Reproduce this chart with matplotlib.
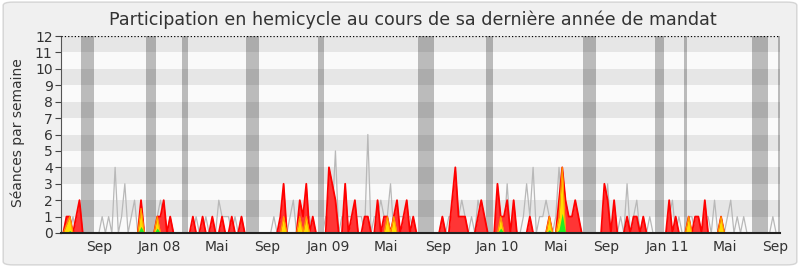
import matplotlib
matplotlib.use("Agg")
import matplotlib.pyplot as plt
from matplotlib.patches import FancyBboxPatch
import numpy as np

# weekly values, week 0 = mid june 2007
presence = [
    0, 1, 1, 0, 1, 2, 0, 0, 0, 0,
    0, 0, 0, 0, 0, 0, 0, 0, 0, 0,
    0, 0, 0, 0, 2, 0, 0, 0, 0, 1,
    1, 2, 0, 1, 0, 0, 0, 0, 0, 0,
    1, 0, 0, 1, 0, 0, 1, 0, 0, 1,
    0, 0, 1, 0, 0, 1, 0, 0, 0, 0,
    0, 0, 0, 0, 0, 0, 0, 1, 3, 0,
    0, 0, 0, 2, 1, 3, 0, 1, 0, 0,
    0, 0, 4, 3, 2, 0, 0, 3, 0, 1,
    2, 0, 0, 1, 1, 0, 0, 2, 0, 1,
    1, 0, 1, 2, 0, 1, 2, 0, 1, 0,
    0, 0, 0, 0, 0, 0, 0, 1, 0, 0,
    2, 4, 1, 1, 1, 0, 0, 0, 1, 2,
    1, 0, 0, 0, 3, 1, 1, 2, 0, 2,
    0, 0, 0, 0, 1, 0, 0, 0, 0, 0,
    1, 0, 0, 2, 4, 2, 1, 1, 2, 1,
    0, 0, 0, 0, 0, 0, 0, 3, 2, 0,
    2, 0, 0, 0, 1, 0, 1, 1, 0, 1,
    0, 0, 0, 0, 0, 0, 0, 2, 0, 1,
    0, 0, 0, 1, 0, 1, 1, 0, 2, 0,
    0, 0, 0, 1, 0, 0, 0, 0, 0, 0,
    0, 0, 0, 0, 0, 0, 0, 0, 0, 0, 0, 0,
]

# sparse series: {week: value}
interventions = {1: 0.5, 2: 1, 24: 1.5, 29: 1, 68: 1, 73: 1, 75: 1, 100: 1,
                 102: 1, 135: 1, 150: 1, 153: 1, 154: 4, 193: 1, 203: 1}
questions = {2: 0.15, 24: 0.4, 29: 0.3, 68: 0.1, 73: 0.1, 75: 0.1, 100: 0.1,
             102: 0.1, 135: 0.3, 150: 0.2, 153: 0.2, 154: 1.2, 193: 0.1, 203: 0.1}

mediane = [
    0, 1, 0, 1, 0, 1, 0, 0, 0, 0,
    0, 0, 1, 0, 1, 0, 4, 0, 1, 3,
    0, 1, 2, 0, 1, 0, 0, 0, 0, 1,
    2, 1, 0, 1, 0, 0, 0, 0, 0, 0,
    0, 1, 0, 0, 1, 0, 0, 0, 2, 1,
    1, 1, 0, 1, 0, 1, 0, 0, 0, 0,
    0, 0, 0, 0, 0, 1, 0, 0, 1, 0,
    1, 2, 0, 1, 1, 1, 1, 0, 0, 0,
    0, 1, 1, 1, 5, 0, 1, 1, 1, 1,
    1, 1, 1, 0, 6, 0, 1, 1, 2, 1,
    1, 3, 0, 1, 1, 1, 1, 1, 0, 0,
    0, 0, 0, 0, 0, 0, 0, 1, 0, 1,
    1, 1, 1, 2, 1, 0, 1, 0, 2, 1,
    1, 0, 0, 0, 1, 1, 0, 3, 0, 1,
    0, 0, 1, 3, 1, 4, 0, 1, 1, 2,
    1, 0, 1, 4, 1, 1, 1, 1, 1, 0,
    0, 0, 0, 0, 0, 0, 0, 1, 3, 0,
    1, 0, 1, 0, 3, 0, 1, 2, 0, 1,
    0, 1, 0, 0, 0, 0, 0, 1, 2, 0,
    1, 0, 0, 1, 1, 0, 1, 0, 1, 1,
    0, 2, 0, 1, 0, 1, 2, 0, 1, 0,
    1, 0, 0, 0, 0, 0, 0, 0, 0, 1, 0, 0,
]

vacances = [6, 7, 8, 9, 26, 27, 28, 37, 38, 57, 58, 59, 60, 79, 80,
            110, 111, 112, 113, 114, 131, 132, 161, 162, 163, 164,
            183, 184, 185, 192, 213, 214, 215, 216, 217, 221]

mois_pos = [11, 29.75, 47.4, 63, 81.8, 99.6, 115.6, 134, 152, 167.7, 186.5, 204.2, 219.8]
mois_labels = ["Sep", "Jan 08", "Mai", "Sep", "Jan 09", "Mai", "Sep",
               "Jan 10", "Mai", "Sep", "Jan 11", "Mai", "Sep"]

n = len(presence)
x = np.arange(n)
jaune = np.zeros(n)
for k, v in interventions.items():
    jaune[k] = v
vert = np.zeros(n)
for k, v in questions.items():
    vert[k] = v

fig = plt.figure(figsize=(8, 2.67), dpi=100, facecolor="white")
fig.patches.append(FancyBboxPatch((0.004, 0.008), 0.992, 0.984,
                                  boxstyle="round,pad=0,rounding_size=0.012",
                                  transform=fig.transFigure, facecolor="#f0f0f0",
                                  edgecolor="#d4d4d4", linewidth=1, zorder=-10))
ax = fig.add_axes([61 / 800, 1 - 233 / 267, 719 / 800, 197 / 267])
ax.set_facecolor("#fafafa")

for i in range(12):
    if i % 2 == 1:
        ax.axhspan(i, i + 1, color="#e6e6e6", lw=0, zorder=0)
for w in vacances:
    ax.axvspan(w - 0.5, w + 0.5, color="black", alpha=0.25, lw=0, zorder=1)

ax.plot(x, mediane, color="#b8b8b8", lw=0.9, zorder=2)
ax.fill_between(x, 0, presence, color="#ff3535", lw=0, zorder=3)
ax.plot(x, presence, color="#ff0000", lw=1.3, zorder=3)
ax.fill_between(x, 0, jaune, color="#ffdd00", lw=0, zorder=4)
ax.plot(x, jaune, color="#ff9900", lw=0.8, zorder=4)
ax.fill_between(x, 0, vert, color="#22ee22", lw=0, zorder=5)

ax.set_xlim(-0.7, 221.2)
ax.set_ylim(0, 12)
ax.axhline(12, color="black", ls=":", lw=0.9, zorder=6)

ax.set_yticks(range(13))
ax.set_xticks(mois_pos)
ax.set_xticklabels(mois_labels)
ax.tick_params(axis="y", length=4, width=0.8, color="#444444", labelsize=10,
               labelcolor="#333333", pad=2)
ax.tick_params(axis="x", length=0, labelsize=10, labelcolor="#333333", pad=5)

for s in ["top", "right"]:
    ax.spines[s].set_visible(False)
ax.spines["left"].set_color("#555555")
ax.spines["bottom"].set_color("#222222")
ax.spines["bottom"].set_linewidth(1.5)
ax.spines["bottom"].set_zorder(7)

fig.text(0.516, 0.925, "Participation en hemicycle au cours de sa dernière année de mandat",
         ha="center", va="center", fontsize=12.6, color="#333333")
fig.text(0.0225, 0.504, "Séances par semaine", rotation=90, ha="center", va="center",
         fontsize=10, color="#333333")

fig.savefig("out.png", dpi=100, facecolor=fig.get_facecolor())
